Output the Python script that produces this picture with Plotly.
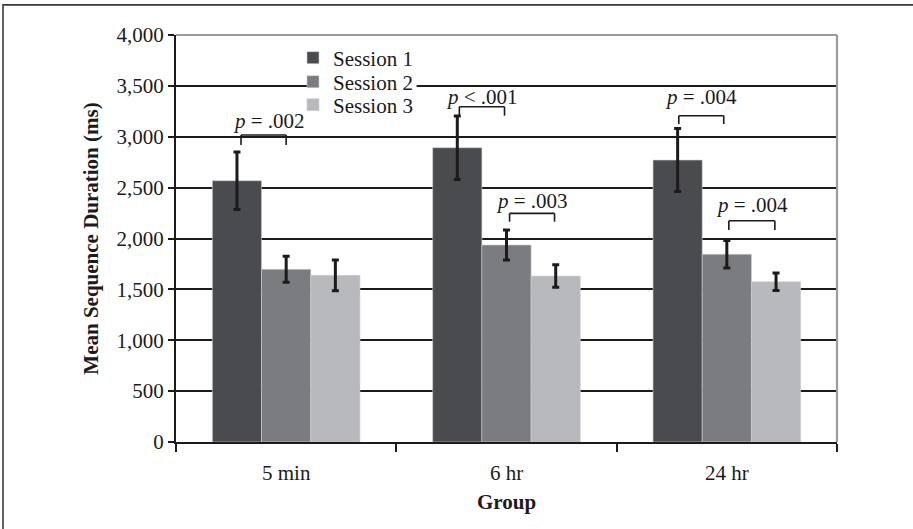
import plotly.graph_objects as go

groups = ["5 min", "6 hr", "24 hr"]
sessions = ["Session 1", "Session 2", "Session 3"]
means = {
    "Session 1": [2568, 2892, 2771],
    "Session 2": [1697, 1936, 1845],
    "Session 3": [1638, 1631, 1575],
}
errors = {
    "Session 1": [282, 311, 310],
    "Session 2": [128, 148, 136],
    "Session 3": [151, 110, 85],
}
colors = {"Session 1": "#4a4b4e", "Session 2": "#7b7c80", "Session 3": "#b8b9bc"}

y_ticks = [0, 500, 1000, 1500, 2000, 2500, 3000, 3500, 4000]

# significance brackets: group index, x from / to (offset from group centre), top y, leg bottom y
br_group = [0, 1, 1, 2, 2]
br_x0 = [-0.205, -0.214, 0.014, -0.218, 0.009]
br_x1 = [0.0, -0.009, 0.218, -0.014, 0.218]
br_top = [3017, 3295, 2247, 3207, 2175]
br_leg = [2919, 3207, 2165, 3125, 2083]
p_labels = ["<i>p</i> = .002", "<i>p</i> < .001", "<i>p</i> = .003", "<i>p</i> = .004", "<i>p</i> = .004"]
p_x = [-0.077, -0.109, 0.114, -0.118, 0.114]
p_y = [3155, 3395, 2365, 3395, 2330]

FONT = "Liberation Serif, Times New Roman, serif"
FS = 21
legend_names = ["legend", "legend2", "legend3"]
legend_rows = [0.9435, 0.8845, 0.828]

fig = go.Figure()
for s, lg in zip(sessions, legend_names):
    fig.add_trace(go.Bar(
        name=s, x=groups, y=means[s], legend=lg,
        marker=dict(color=colors[s], line=dict(color="#d0d0d0", width=0.6)),
        error_y=dict(type="data", array=errors[s], visible=True,
                     color="#1c1a1b", thickness=3, width=3.5),
    ))

shapes = []
for g, a, b, t, l in zip(br_group, br_x0, br_x1, br_top, br_leg):
    for (xa, ya, xb, yb) in [(g + a, l, g + a, t), (g + a, t, g + b, t), (g + b, t, g + b, l)]:
        shapes.append(dict(type="line", xref="x", yref="y", x0=xa, y0=ya, x1=xb, y1=yb,
                           line=dict(color="#1c1a1b", width=1.6)))
# white background behind the legend block (hides the grid line there)
shapes.append(dict(type="rect", xref="paper", yref="paper", x0=0.203, x1=0.364, y0=0.855, y1=0.915,
                   line=dict(width=0), fillcolor="white", layer="above"))
# top and right plot border (grey)
shapes.append(dict(type="line", xref="paper", yref="paper", x0=0, x1=1, y0=1, y1=1,
                   line=dict(color="#9a9a9c", width=2.2), layer="above"))
shapes.append(dict(type="line", xref="paper", yref="paper", x0=1, x1=1, y0=0, y1=1,
                   line=dict(color="#9a9a9c", width=2.2), layer="above"))
# outer figure frame
shapes.append(dict(type="rect", xref="paper", yref="paper", x0=-0.2617, x1=1.3, y0=-0.3, y1=1.074,
                   line=dict(color="#3a3a3a", width=1.6), fillcolor="rgba(0,0,0,0)", layer="above"))

annotations = []
for g, txt, x, y in zip(br_group, p_labels, p_x, p_y):
    annotations.append(dict(x=g + x, y=y, xref="x", yref="y", text=txt, showarrow=False,
                            font=dict(family=FONT, size=FS, color="#1c1a1b"),
                            xanchor="center", yanchor="middle"))

legend_common = dict(x=0.177, xanchor="left", yanchor="middle", bgcolor="rgba(0,0,0,0)",
                     borderwidth=0, font=dict(family=FONT, size=FS, color="#1c1a1b"),
                     itemclick=False, itemdoubleclick=False)

fig.update_layout(
    width=913, height=529,
    margin=dict(l=176, r=76, t=35, b=87),
    paper_bgcolor="white", plot_bgcolor="white",
    barmode="group", bargap=0.33, bargroupgap=0,
    font=dict(family=FONT, size=FS, color="#1c1a1b"),
    showlegend=True,
    legend=dict(y=legend_rows[0], **legend_common),
    legend2=dict(y=legend_rows[1], **legend_common),
    legend3=dict(y=legend_rows[2], **legend_common),
    shapes=shapes, annotations=annotations,
)
fig.update_xaxes(
    type="category", tickson="boundaries", ticks="outside", ticklen=8, tickwidth=2,
    tickcolor="#1c1a1b", showline=True, linecolor="#1c1a1b", linewidth=2.2,
    showgrid=False, ticklabelstandoff=11,
    title=dict(text="<b>Group</b>", standoff=10, font=dict(family=FONT, size=FS)),
    tickfont=dict(family=FONT, size=FS),
)
fig.update_yaxes(
    range=[0, 4000], tickvals=y_ticks, tickformat=",", ticks="outside", ticklen=6,
    tickwidth=2, tickcolor="#1c1a1b", showline=True, linecolor="#1c1a1b", linewidth=2.2,
    showgrid=True, gridcolor="#1c1a1b", gridwidth=2, zeroline=False,
    title=dict(text="<b>Mean Sequence Duration (ms)</b>", standoff=12,
               font=dict(family=FONT, size=FS)),
    tickfont=dict(family=FONT, size=FS),
)

fig.write_html("out.html", config={"displayModeBar": False},
               post_script="document.body.style.margin='0px';")
